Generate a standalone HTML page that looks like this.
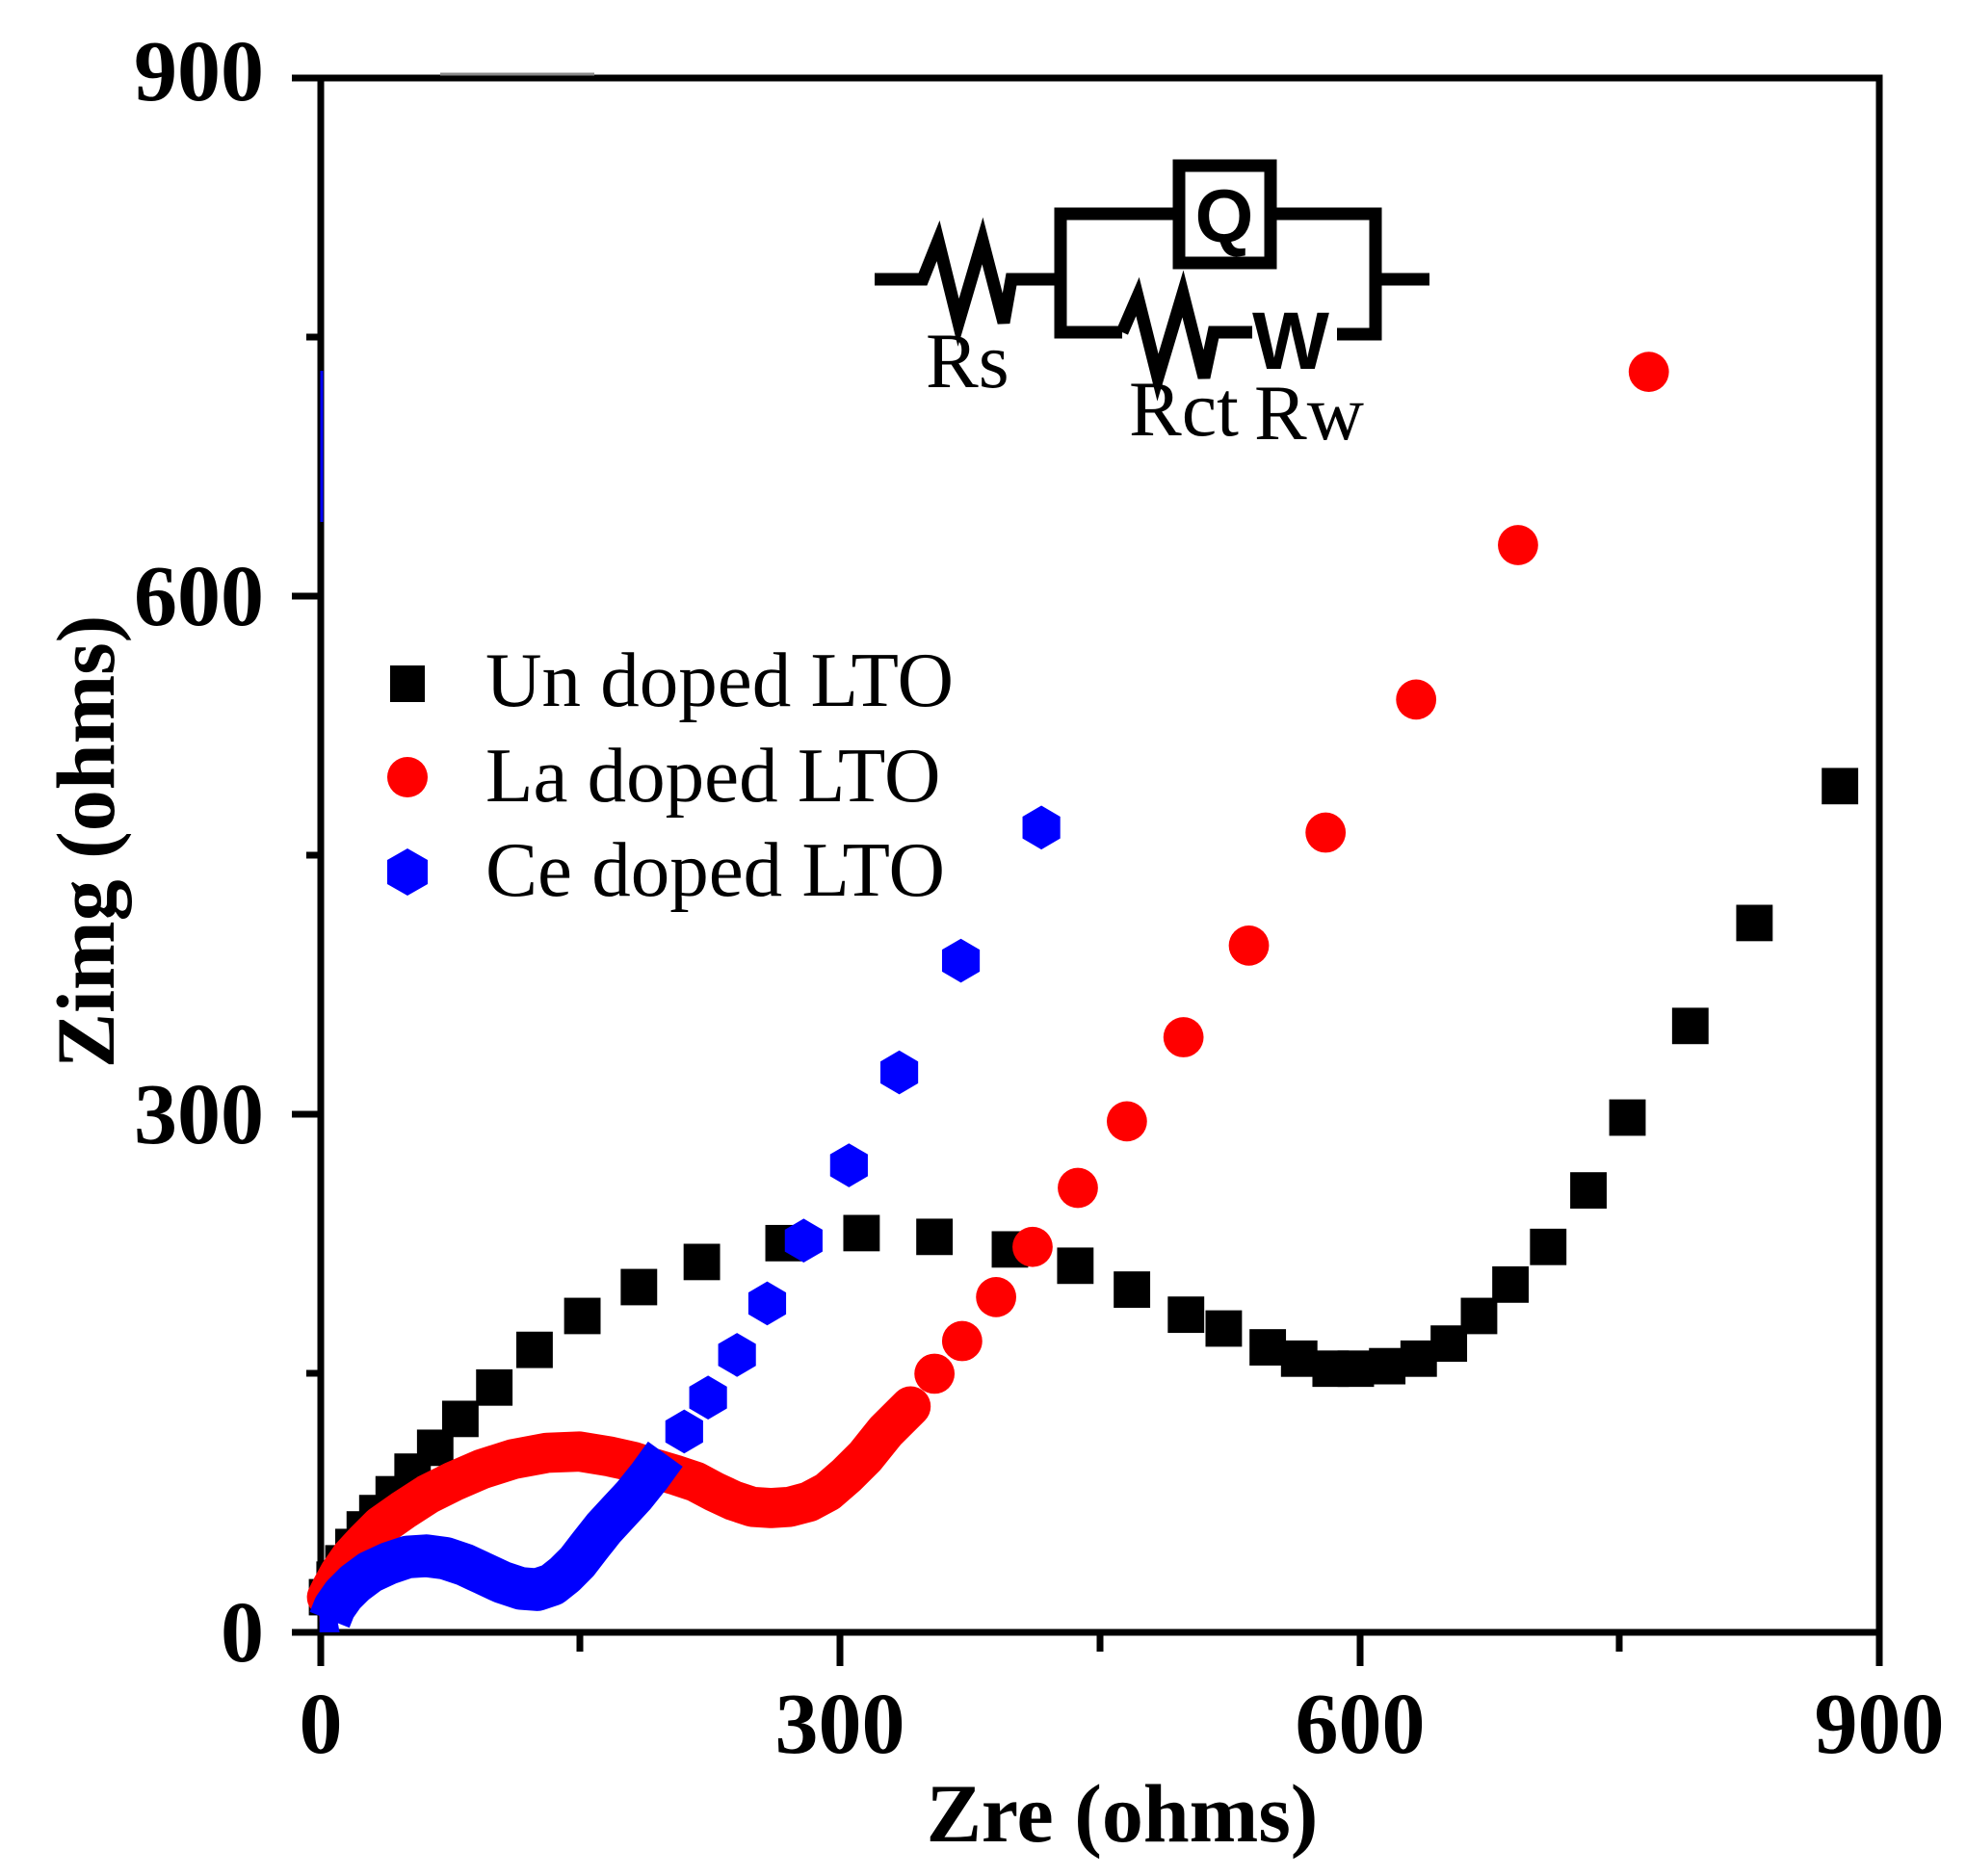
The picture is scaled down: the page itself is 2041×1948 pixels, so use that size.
<!DOCTYPE html>
<html><head><meta charset="utf-8"><style>html,body{margin:0;padding:0;background:#fff}svg{display:block}</style></head>
<body>
<svg width="2041" height="1948" viewBox="0 0 2041 1948" xmlns="http://www.w3.org/2000/svg">
<defs>
<rect id="sq" x="-14.5" y="-14.5" width="29" height="29" fill="#000"/>
<circle id="ci" r="16" fill="#ff0000"/>
<polygon id="hx" points="0,-17.5 15,-8.7 15,8.7 0,17.5 -15,8.7 -15,-8.7" fill="#0000ff"/>
</defs>
<g stroke="#000" stroke-width="7" fill="none">
<rect x="333" y="81" width="1618" height="1614"/>
<line x1="303" y1="81" x2="333" y2="81"/>
<line x1="303" y1="619" x2="333" y2="619"/>
<line x1="303" y1="1157" x2="333" y2="1157"/>
<line x1="303" y1="1695" x2="333" y2="1695"/>
<line x1="318" y1="350" x2="333" y2="350"/>
<line x1="318" y1="888" x2="333" y2="888"/>
<line x1="318" y1="1426" x2="333" y2="1426"/>
<line x1="333" y1="1695" x2="333" y2="1730"/>
<line x1="872" y1="1695" x2="872" y2="1730"/>
<line x1="1412" y1="1695" x2="1412" y2="1730"/>
<line x1="1951" y1="1695" x2="1951" y2="1730"/>
<line x1="602" y1="1695" x2="602" y2="1715"/>
<line x1="1142" y1="1695" x2="1142" y2="1715"/>
<line x1="1681" y1="1695" x2="1681" y2="1715"/>
</g>
<line x1="457" y1="77" x2="617" y2="77" stroke="#888" stroke-width="3"/>
<line x1="334" y1="385" x2="334" y2="542" stroke="#0000ff" stroke-width="3"/>

<g font-family="'Liberation Serif', serif" font-weight="bold" font-size="90" fill="#000">
<text x="274" y="104" text-anchor="end">900</text>
<text x="274" y="649" text-anchor="end">600</text>
<text x="274" y="1187" text-anchor="end">300</text>
<text x="274" y="1725" text-anchor="end">0</text>
<text x="333" y="1820" text-anchor="middle">0</text>
<text x="872" y="1820" text-anchor="middle">300</text>
<text x="1412" y="1820" text-anchor="middle">600</text>
<text x="1951" y="1820" text-anchor="middle">900</text>
<text x="1165" y="1912" text-anchor="middle" font-size="86">Zre (ohms)</text>
<text x="0" y="0" text-anchor="middle" font-size="86" transform="translate(118 874) rotate(-90)">Zimg (ohms)</text>
</g>

<g transform="translate(333 1695) scale(1.3056 1.3037) translate(-257 -1300)">
<g>
<use href="#sq" x="1465" y="626"/><use href="#sq" x="1397" y="735"/><use href="#sq" x="1346" y="817"/><use href="#sq" x="1296" y="890"/><use href="#sq" x="1265" y="948"/><use href="#sq" x="1233" y="993"/><use href="#sq" x="1203" y="1023"/><use href="#sq" x="1178" y="1048"/><use href="#sq" x="1154" y="1070"/><use href="#sq" x="1130" y="1082"/><use href="#sq" x="1105" y="1088"/><use href="#sq" x="1080" y="1090"/><use href="#sq" x="1060" y="1090"/><use href="#sq" x="1035" y="1082"/><use href="#sq" x="1010" y="1073"/><use href="#sq" x="975" y="1058"/><use href="#sq" x="945" y="1047"/><use href="#sq" x="902" y="1027"/><use href="#sq" x="857" y="1008"/><use href="#sq" x="805" y="995"/><use href="#sq" x="745" y="985"/><use href="#sq" x="687" y="982"/><use href="#sq" x="625" y="990"/><use href="#sq" x="560" y="1005"/><use href="#sq" x="510" y="1025"/><use href="#sq" x="465" y="1048"/><use href="#sq" x="427" y="1075"/><use href="#sq" x="395" y="1105"/><use href="#sq" x="368" y="1130"/><use href="#sq" x="348" y="1153"/><use href="#sq" x="330" y="1172"/><use href="#sq" x="315" y="1190"/><use href="#sq" x="302" y="1205"/><use href="#sq" x="292" y="1218"/><use href="#sq" x="283" y="1232"/><use href="#sq" x="275" y="1245"/><use href="#sq" x="268" y="1258"/><use href="#sq" x="262" y="1272"/>
</g>
<polyline fill="none" stroke="#ff0000" stroke-width="32" stroke-linejoin="round" stroke-linecap="round" points="262,1272 266,1264 272,1253 281,1240 292,1228 305,1215 322,1203 342,1190 362,1180 385,1170 410,1162 437,1157 463,1156 487,1160 505,1164 520,1169 540,1175 555,1180 570,1188 585,1195 600,1200 615,1201 630,1200 645,1196 660,1188 675,1175 690,1160 706,1140 726,1120"/>
<polygon points="256,1292 272,1270 262,1262 255,1270" fill="#ff0000"/>
<g>
<use href="#ci" x="745" y="1094"/><use href="#ci" x="767" y="1068"/><use href="#ci" x="794" y="1033"/><use href="#ci" x="823" y="993"/><use href="#ci" x="859" y="946"/><use href="#ci" x="898" y="893"/><use href="#ci" x="943" y="826"/><use href="#ci" x="995" y="753"/><use href="#ci" x="1056" y="663"/><use href="#ci" x="1128" y="557"/><use href="#ci" x="1209" y="434"/><use href="#ci" x="1313" y="296"/>
</g>
<polyline fill="none" stroke="#0000ff" stroke-width="34" stroke-linejoin="round" points="264,1290 268,1280 275,1270 284,1261 296,1252 311,1245 326,1240 341,1239 356,1241 371,1246 386,1253 401,1260 416,1265 429,1266 441,1262 451,1254 461,1244 471,1231 482,1217 494,1204 506,1191 518,1176 531,1158"/>
<polygon points="256,1300 272,1300 268,1278 256,1272" fill="#0000ff"/>
<g>
<use href="#hx" x="546" y="1140"/><use href="#hx" x="565" y="1113"/><use href="#hx" x="588" y="1079"/><use href="#hx" x="612" y="1038"/><use href="#hx" x="641" y="988"/><use href="#hx" x="677" y="928"/><use href="#hx" x="717" y="854"/><use href="#hx" x="766" y="765"/><use href="#hx" x="830" y="659"/>
</g>
</g>

<rect x="405" y="691" width="36" height="38" fill="#000"/>
<ellipse cx="423" cy="807" rx="21" ry="21" fill="#ff0000"/>
<polygon points="423,881 444,893 444,918 423,930 402,918 402,893" fill="#0000ff"/>
<g font-family="'Liberation Serif', serif" font-size="81" fill="#000">
<text x="504" y="733">Un doped LTO</text>
<text x="504" y="832">La doped LTO</text>
<text x="504" y="930">Ce doped LTO</text>
</g>

<g stroke="#000" stroke-width="13" fill="none" stroke-linejoin="miter">
<polyline points="908,290 958,290 974,250 995,335 1020,250 1042,335 1050,290 1101,290"/>
<polyline points="1218,222 1101,222 1101,345 1165,345"/>
<rect x="1224" y="172" width="95" height="101"/>
<polyline points="1319,222 1428,222 1428,347 1388,347"/>
<line x1="1428" y1="290" x2="1484" y2="290"/>
<polyline points="1165,345 1181,308 1202,392 1228,305 1250,392 1260,345 1300,345"/>
</g>
<g font-family="'Liberation Sans', sans-serif" font-weight="bold" fill="#000">
<text x="1271" y="251" text-anchor="middle" font-size="78">Q</text>
<text x="1300" y="383" font-size="84" textLength="80" lengthAdjust="spacingAndGlyphs">W</text>
</g>
<g font-family="'Liberation Serif', serif" font-size="82" fill="#000">
<text x="961" y="402">Rs</text>
<text x="1172" y="452">Rct</text>
<text x="1302" y="456">Rw</text>
</g>
</svg>
</body></html>
